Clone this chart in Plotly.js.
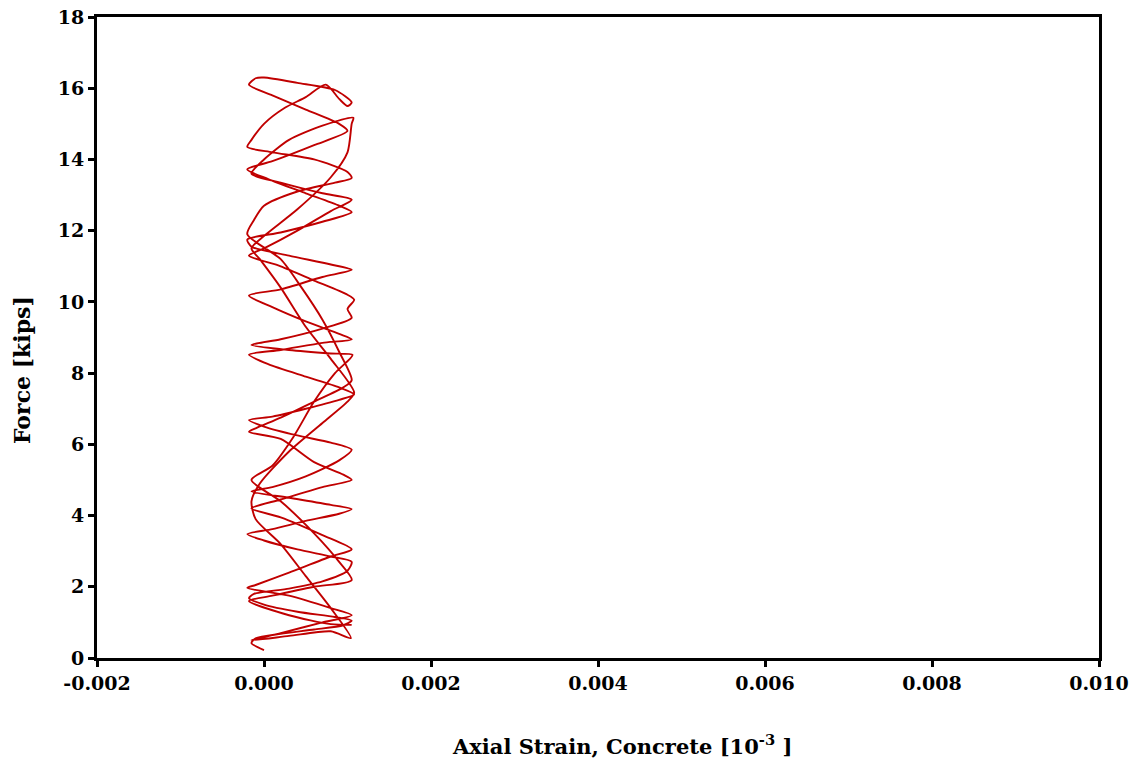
<!DOCTYPE html>
<html>
<head>
<meta charset="utf-8">
<script src="https://cdn.plot.ly/plotly-3.0.1.min.js"></script>
<style>html,body{margin:0;padding:0;background:#fff;}#chart{width:1135px;height:761px;}</style>
</head>
<body>
<div id="chart"></div>
<script>
// Axial strain (concrete) and force readings
const strain = [
  0.00000, -0.00015, -0.00010, 0.00020, 0.00060, 0.00095, 0.00105, 0.00085, 0.00040, 0.00000,
  -0.00018, -0.00012, 0.00030, 0.00070, 0.00100, 0.00105, 0.00080, 0.00040, 0.00000, -0.00020,
  0.00010, 0.00050, 0.00090, 0.00105, 0.00080, 0.00030, -0.00015, 0.00010, 0.00050, 0.00090,
  0.00105, 0.00080, 0.00040, 0.00000, -0.00018, 0.00010, 0.00050, 0.00090, 0.00108, 0.00090,
  0.00050, 0.00005, -0.00018, 0.00020, 0.00070, 0.00105, 0.00090, 0.00050, 0.00010, -0.00018,
  0.00020, 0.00070, 0.00105, 0.00080, 0.00030, -0.00015, -0.00020, 0.00020, 0.00070, 0.00105,
  0.00090, 0.00050, 0.00005, -0.00020, 0.00010, 0.00060, 0.00100, 0.00090, 0.00050, 0.00010,
  -0.00018, -0.00010, 0.00000, 0.00040, 0.00085, 0.00105, 0.00100, 0.00090, 0.00074,
  0.00050, 0.00025, 0.00000, -0.00015, -0.00020, 0.00010, 0.00060, 0.00100, 0.00105, 0.00085,
  0.00040, 0.00000, -0.00012, -0.00020, 0.00020, 0.00045, 0.00070, 0.00090, 0.00105, 0.00095,
  0.00060, 0.00020, -0.00010, -0.00018, 0.00020, 0.00060, 0.00095, 0.00105, 0.00070, 0.00020,
  -0.00015, 0.00020, 0.00070, 0.00105, 0.00080, 0.00030, -0.00010, -0.00020, 0.00030, 0.00080,
  0.00105, 0.00070, 0.00020, -0.00015, 0.00030, 0.00080, 0.00104,
  0.00080, 0.00050, 0.00020, -0.00010, -0.00015, -0.00005, 0.00030, 0.00070, 0.00100, 0.00108,
  0.00080, 0.00050, 0.00020, -0.00005, -0.00015, 0.00000, 0.00040, 0.00080, 0.00100, 0.00105,
  0.00107, 0.00070, 0.00030, 0.00000, -0.00015, 0.00020, 0.00070, 0.00105, 0.00080, 0.00040,
  0.00000, -0.00018, 0.00020, 0.00060, 0.00100, 0.00108, 0.00100, 0.00105, 0.00070, 0.00020,
  -0.00015, 0.00030, 0.00080, 0.00106, 0.00085, 0.00060, 0.00035, 0.00010, -0.00015, 0.00020,
  0.00060, 0.00090, 0.00105, 0.00060, 0.00010, -0.00018, 0.00030, 0.00080, 0.00105
];
const force = [
  0.22, 0.42, 0.55, 0.68, 0.80, 0.92, 1.05, 1.15, 1.30, 1.50,
  1.68, 1.80, 1.95, 2.15, 2.45, 2.70, 2.85, 3.05, 3.30, 3.48,
  3.62, 3.85, 4.05, 4.18, 4.30, 4.50, 4.68, 4.80, 5.10, 5.55,
  5.85, 6.05, 6.25, 6.50, 6.68, 6.78, 7.00, 7.25, 7.40, 7.60,
  7.90, 8.25, 8.52, 8.65, 8.85, 8.95, 9.10, 9.45, 9.85, 10.18,
  10.35, 10.70, 10.90, 11.05, 11.30, 11.55, 11.75, 11.95, 12.25, 12.52,
  12.70, 13.05, 13.45, 13.72, 13.95, 14.40, 14.80, 15.00, 15.40, 15.80,
  16.10, 16.28, 16.30, 16.15, 15.95, 15.60, 15.50, 15.70, 16.10,
  15.75, 15.45, 15.00, 14.55, 14.35, 14.20, 14.00, 13.65, 13.48, 13.35,
  13.10, 12.70, 12.30, 11.90, 11.20, 10.40, 9.50, 8.60, 7.80, 7.60,
  7.20, 6.75, 6.45, 6.35, 6.15, 5.50, 5.15, 5.00, 4.80, 4.45,
  4.20, 3.95, 3.45, 3.05, 2.85, 2.40, 2.05, 1.97, 1.75, 1.40,
  1.20, 1.00, 0.70, 0.50, 0.62, 0.75, 0.56,
  1.40, 2.30, 3.20, 3.90, 4.40, 4.90, 5.80, 6.60, 7.20, 7.45,
  8.40, 9.30, 10.40, 11.20, 11.50, 11.85, 12.60, 13.50, 14.20, 15.00,
  15.17, 14.95, 14.55, 14.00, 13.60, 13.35, 13.05, 12.87, 12.55, 12.00,
  11.50, 11.30, 11.00, 10.60, 10.20, 10.06, 9.80, 9.55, 9.25, 8.95,
  8.79, 8.65, 8.55, 8.51, 8.00, 7.20, 6.20, 5.40, 5.00, 4.40,
  3.50, 2.70, 2.19, 2.00, 1.75, 1.60, 1.20, 0.95, 0.93
];

const xTickVals = [-0.002, 0.000, 0.002, 0.004, 0.006, 0.008, 0.010];
const xTickText = ["-0.002", "0.000", "0.002", "0.004", "0.006", "0.008", "0.010"];
const yTickVals = [0, 2, 4, 6, 8, 10, 12, 14, 16, 18];
const yTickText = ["0", "2", "4", "6", "8", "10", "12", "14", "16", "18"];

const xTitle = "Axial Strain, Concrete [10<sup>-3</sup> ]";
const yTitle = "Force [kips]";

const fontFam = "DejaVu Serif, Liberation Serif, serif";

const trace = {
  x: strain, y: force, type: "scatter", mode: "lines",
  line: {color: "#C00000", width: 1.9, shape: "spline", smoothing: 0.7},
  hoverinfo: "skip"
};

const axisCommon = {
  showline: true, mirror: true, linecolor: "#000", linewidth: 3,
  ticks: "outside", ticklen: 6, tickwidth: 3, tickcolor: "#000",
  showgrid: false, zeroline: false,
  tickfont: {family: fontFam, size: 19, color: "#000", weight: "bold"}
};

const layout = {
  width: 1135, height: 761,
  margin: {l: 97, r: 36, t: 17, b: 103},
  paper_bgcolor: "#fff", plot_bgcolor: "#fff",
  showlegend: false,
  xaxis: Object.assign({}, axisCommon, {
    range: [-0.002, 0.010], tickmode: "array", tickvals: xTickVals, ticktext: xTickText
  }),
  yaxis: Object.assign({}, axisCommon, {
    range: [0, 18], tickmode: "array", tickvals: yTickVals, ticktext: yTickText
  }),
  annotations: [
    {text: xTitle, xref: "paper", yref: "paper", x: 0.524, y: -0.136,
     xanchor: "center", yanchor: "middle", showarrow: false,
     font: {family: fontFam, size: 21, color: "#000", weight: "bold"}},
    {text: yTitle, xref: "paper", yref: "paper", x: -0.075, y: 0.449,
     xanchor: "center", yanchor: "middle", showarrow: false, textangle: -90,
     font: {family: fontFam, size: 22, color: "#000", weight: "bold"}}
  ]
};

Plotly.newPlot("chart", [trace], layout, {displayModeBar: false, staticPlot: true});
</script>
</body>
</html>
